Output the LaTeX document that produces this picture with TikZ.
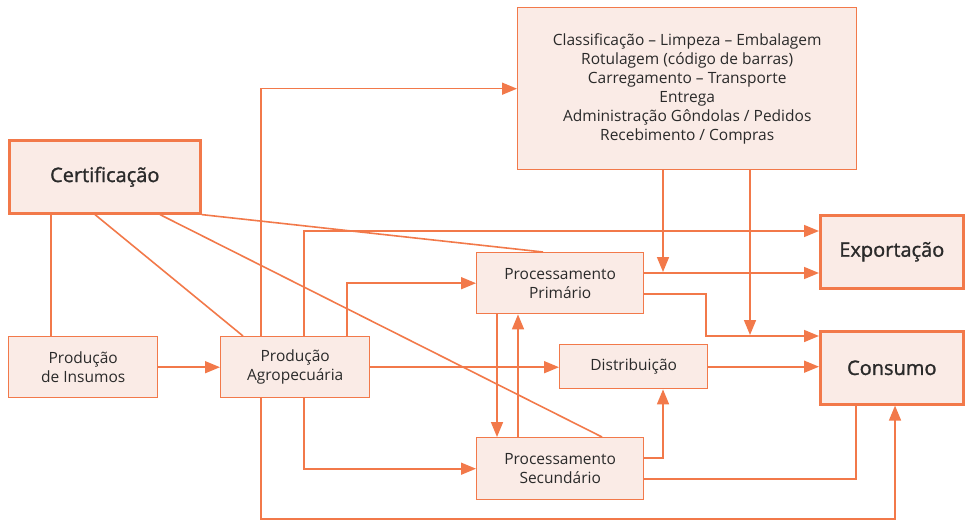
\documentclass[tikz,border=0pt]{standalone}
\usepackage{fontspec}
\setmainfont{Open Sans}
\newfontfamily\bigf[FakeBold=1.3]{Open Sans}
\usetikzlibrary{arrows.meta,calc}
\definecolor{oc}{HTML}{F2794A}
\definecolor{pc}{HTML}{FAEBE6}
\definecolor{tc}{HTML}{2A2A2A}
\begin{document}
\begin{tikzpicture}[x=1pt,y=-1pt,
  box/.style={draw=oc, fill=pc, line width=1.4pt, inner sep=0pt, anchor=north west, align=center, text=tc,
    font=\fontsize{15.5}{19}\selectfont},
  bigbox/.style={box, line width=2.6pt, font=\bigf\fontsize{20}{24}\selectfont},
  conn/.style={draw=oc, line width=1.6pt},
  arr/.style={conn, -{Triangle[length=15pt,width=12pt]}}]
\useasboundingbox (0,0) rectangle (965,521);
% nodes
\node[box, minimum width=339pt, minimum height=162pt] (cls) at (517,7)
  {Classificação -- Limpeza -- Embalagem\\Rotulagem (código de barras)\\Carregamento -- Transporte\\Entrega\\Administração Gôndolas / Pedidos\\Recebimento / Compras};
\node[bigbox, minimum width=191pt, minimum height=73pt] (cert) at (8,139) {Certificação};
\node[box, minimum width=149pt, minimum height=61pt] (ins) at (8,336) {Produção\\de Insumos};
\node[box, minimum width=149pt, minimum height=61pt] (agro) at (220,336) {Produção\\Agropecuária};
\node[box, minimum width=167pt, minimum height=61pt] (pp) at (476,252) {Processamento\\Primário};
\node[box, minimum width=148pt, minimum height=44pt] (dist) at (559,344) {Distribuição};
\node[box, minimum width=167pt, minimum height=62pt] (ps) at (476,437) {Processamento\\Secundário};
\node[bigbox, minimum width=143pt, minimum height=73pt] (exp) at (819,214) {Exportação};
\node[bigbox, minimum width=143pt, minimum height=73pt] (cons) at (819,330) {Consumo};
% helper coordinates
\coordinate (b11) at (895,519);
\coordinate (k17) at (706,336);
\coordinate (a19) at (663,272);
\coordinate (a20) at (750,335);
% certification lines
\draw[conn] ([xshift=43pt]cert.south west) -- ([xshift=43pt]ins.north west);
\draw[conn] ([xshift=87pt]cert.south west) -- ([xshift=23pt]agro.north west);
\draw[conn] ([xshift=152pt]cert.south west) -- ([xshift=126pt]ps.north west);
\draw[conn] (cert.south east) -- ([xshift=67pt]pp.north west);
% flows
\draw[arr] (ins.east |- agro.west) -- (agro.west);
\draw[arr] ([xshift=41pt]agro.north west) |- (cls.west);
\draw[arr] ([xshift=84pt]agro.north west) |- ([yshift=-17pt]exp.north west);
\draw[arr] ([xshift=127pt]agro.north west) |- (pp.west);
\draw[arr] (agro.east) -- (agro.east -| dist.west);
\draw[arr] ([xshift=84pt]agro.south west) |- (ps.west);
\draw[arr] ([xshift=41pt]agro.south west) |- (b11) -- ([xshift=76pt]cons.south west);
\draw[arr] ([xshift=21pt]pp.south west) -- ([xshift=21pt]ps.north west);
\draw[arr] ([xshift=42pt]ps.north west) -- ([xshift=42pt]pp.south west);
\draw[arr] ([yshift=-21pt]ps.north east) -| ([xshift=104pt]dist.south west);
\draw[conn] ([yshift=-42pt]ps.north east) -| ([xshift=37pt]cons.south west);
\draw[arr] (dist.east) -- (dist.east -| cons.west);
\draw[arr] ([yshift=-42pt]pp.north east) -| (k17) -- (k17 -| cons.west);
\draw[arr] ([yshift=-21pt]pp.north east) -- ([yshift=-21pt]pp.north east -| exp.west);
\draw[arr] ([xshift=146pt]cls.south west) -- (a19);
\draw[arr] ([xshift=233pt]cls.south west) -- (a20);
\end{tikzpicture}
\end{document}
